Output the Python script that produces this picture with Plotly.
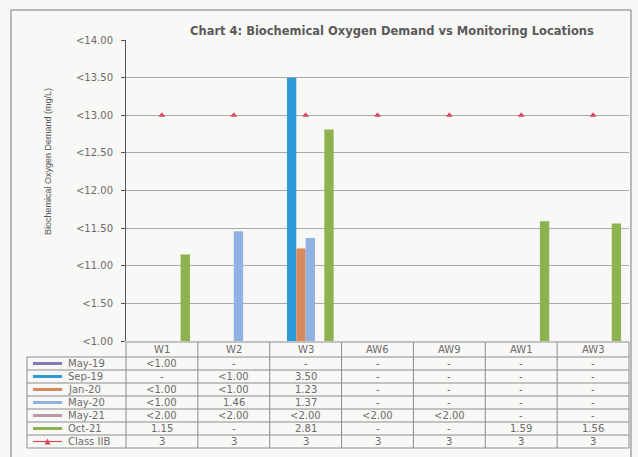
import plotly.graph_objects as go

# ---- data -------------------------------------------------------------
locations = ["W1", "W2", "W3", "AW6", "AW9", "AW1", "AW3"]
periods = ["May-19", "Sep-19", "Jan-20", "May-20", "May-21", "Oct-21"]

may_19 = ["<1.00", "-", "-", "-", "-", "-", "-"]
sep_19 = ["-", "<1.00", "3.50", "-", "-", "-", "-"]
jan_20 = ["<1.00", "<1.00", "1.23", "-", "-", "-", "-"]
may_20 = ["<1.00", "1.46", "1.37", "-", "-", "-", "-"]
may_21 = ["<2.00", "<2.00", "<2.00", "<2.00", "<2.00", "-", "-"]
oct_21 = ["1.15", "-", "2.81", "-", "-", "1.59", "1.56"]
class_iib = [3, 3, 3, 3, 3, 3, 3]
class_label = "Class IIB"

y_tick_values = [0, 0.5, 1, 1.5, 2, 2.5, 3, 3.5, 4]
y_tick_labels = ["<1.00", "<1.50", "<11.00", "<11.50", "<12.00",
                 "<12.50", "<13.00", "<13.50", "<14.00"]

series = [may_19, sep_19, jan_20, may_20, may_21, oct_21]
colors = ["#8379b8", "#2f9ad8", "#d98a5c", "#8fb2e2", "#bf98a6", "#8db24f"]
class_color = "#d9465c"

title = "Chart 4: Biochemical Oxygen Demand vs Monitoring Locations"
y_title = "Biochemical Oxygen Demand (mg/L)"


def as_number(text):
    """Table entries that are plain numbers become bars; '<x' and '-' do not."""
    try:
        return float(text)
    except ValueError:
        return None


# ---- geometry (pixels of a 638x457 page) ------------------------------
W, H = 638, 457
PL, PR, PT, PB = 126, 629, 40, 341          # plot area edges
pw, ph = PR - PL, PB - PT


def xp(px):
    return (px - PL) / pw


def yp(py):
    return (PB - py) / ph


text_col = "#6b6b6b"
line_col = "#8c8c8c"
font_main = "DejaVu Sans"

fig = go.Figure()

for name, vals, col in zip(periods, series, colors):
    fig.add_trace(go.Bar(
        x=locations, y=[as_number(v) for v in vals], name=name,
        marker=dict(color=col, line=dict(width=0)),
    ))

fig.add_trace(go.Scatter(
    x=locations, y=class_iib, name=class_label, mode="markers",
    marker=dict(symbol="triangle-up", size=6, color=class_color),
))

shapes = []
annotations = []


def label(x, y, text, size=10, color=text_col, family=font_main,
          xanchor="center", **kw):
    annotations.append(dict(xref="paper", yref="paper", x=x, y=y, text=text,
                            showarrow=False, xanchor=xanchor, yanchor="middle",
                            font=dict(family=family, size=size, color=color), **kw))


# ---- data table under the axis ----------------------------------------
n = len(locations)
row_bounds = [342, 357, 370, 383, 396, 409, 422, 435, 448]
col_w = 1.0 / n
legend_left = xp(27)

# horizontal rules
for i, yb in enumerate(row_bounds):
    x0 = 0 if i == 0 else legend_left
    shapes.append(dict(type="line", xref="paper", yref="paper",
                       x0=x0, x1=1, y0=yp(yb), y1=yp(yb),
                       line=dict(color=line_col, width=1)))
# vertical rules
for j in range(n + 1):
    shapes.append(dict(type="line", xref="paper", yref="paper",
                       x0=j * col_w, x1=j * col_w,
                       y0=yp(row_bounds[0]), y1=yp(row_bounds[-1]),
                       line=dict(color=line_col, width=1)))
shapes.append(dict(type="line", xref="paper", yref="paper",
                   x0=legend_left, x1=legend_left,
                   y0=yp(row_bounds[1]), y1=yp(row_bounds[-1]),
                   line=dict(color=line_col, width=1)))

# header row: location names
hy = (row_bounds[0] + row_bounds[1]) / 2
for j, loc in enumerate(locations):
    label((j + 0.5) * col_w, yp(hy), loc)

# body rows
rows = [(p, s, c) for p, s, c in zip(periods, series, colors)]
rows.append((class_label, [str(v) for v in class_iib], class_color))
for r, (name, vals, col) in enumerate(rows):
    cy = (row_bounds[r + 1] + row_bounds[r + 2]) / 2
    # legend key
    shapes.append(dict(type="line", xref="paper", yref="paper",
                       x0=xp(33), x1=xp(62), y0=yp(cy), y1=yp(cy),
                       line=dict(color=col, width=3 if name != class_label else 1.2)))
    if name == class_label:
        cx = xp(47.5)
        dx, dy = 3 / pw, 3 / ph
        shapes.append(dict(type="path", xref="paper", yref="paper",
                           path=f"M {cx - dx} {yp(cy) - dy} L {cx + dx} {yp(cy) - dy} "
                                f"L {cx} {yp(cy) + dy} Z",
                           fillcolor=col, line=dict(width=0)))
    label(xp(66), yp(cy), name, xanchor="left")
    for j, v in enumerate(vals):
        label((j + 0.5) * col_w, yp(cy), v)

# ---- outer chart frame ------------------------------------------------
shapes.append(dict(type="path", xref="paper", yref="paper",
                   path=f"M {xp(11)} {yp(470)} L {xp(11)} {yp(10)} "
                        f"L {xp(631)} {yp(10)} L {xp(631)} {yp(470)}",
                   line=dict(color="#7a7a7a", width=1)))

# ---- titles -----------------------------------------------------------
label(xp(392), yp(31), f"<b>{title}</b>", size=11.5, color="#5a5a5a")
label(xp(48), yp(162), y_title, size=9, color="#555555",
      family="Liberation Sans", textangle=-90)

fig.update_layout(
    width=W, height=H,
    margin=dict(l=PL, r=W - PR, t=PT, b=H - PB, pad=0),
    paper_bgcolor="#f8f8f6", plot_bgcolor="#f8f8f6",
    barmode="group", bargap=0.22, bargroupgap=0,
    showlegend=False,
    shapes=shapes, annotations=annotations,
    xaxis=dict(showticklabels=False, showgrid=False, zeroline=False,
               showline=False, ticks="", range=[-0.5, n - 0.5]),
    yaxis=dict(range=[0, 4], tickvals=y_tick_values, ticktext=y_tick_labels,
               showgrid=True, gridcolor="#a9a9a9", gridwidth=1, zeroline=False,
               showline=True, linecolor="#555555", linewidth=1,
               ticks="outside", ticklen=4, tickcolor="#555555",
               ticklabelstandoff=6,
               tickfont=dict(family=font_main, size=10, color=text_col)),
)

fig.write_html("out.html")
